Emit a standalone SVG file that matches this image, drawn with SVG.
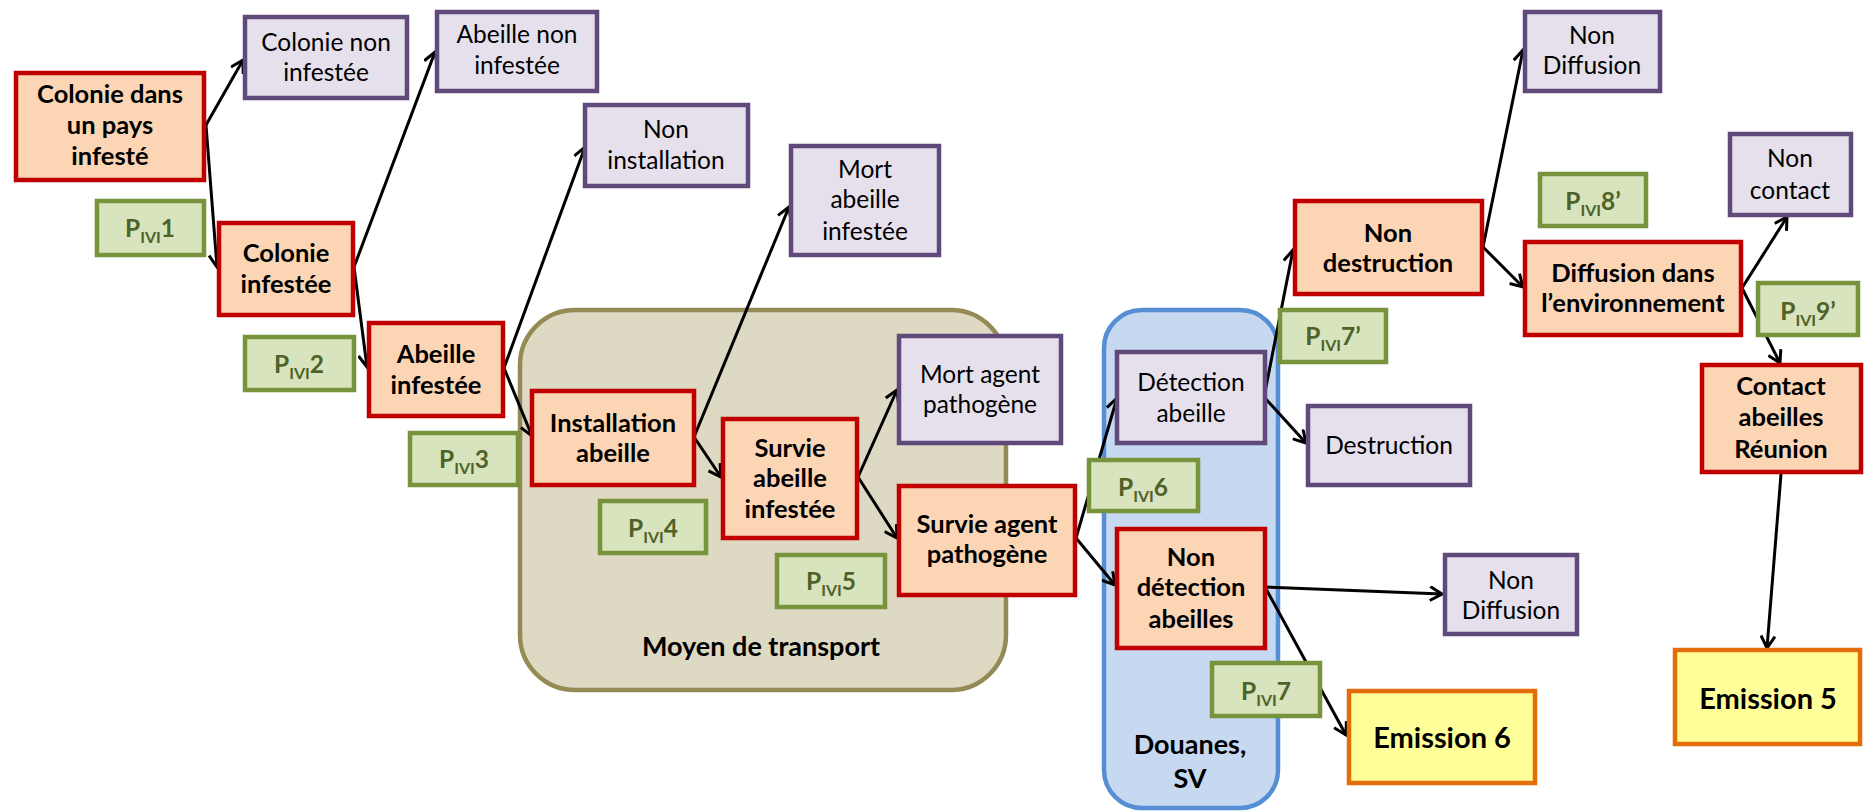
<svg xmlns="http://www.w3.org/2000/svg" width="1865" height="812" viewBox="0 0 1865 812">
<defs>
<style>
.red rect{fill:#FCD5B5;stroke:#C00000;stroke-width:4.5}
.pur rect{fill:#E5E0EC;stroke:#604A7B;stroke-width:4.5}
.grn rect{fill:#D7E4BD;stroke:#77933C;stroke-width:4.5}
.emi rect{fill:#FFFF99;stroke:#E46C0A;stroke-width:4.5}
text{font-family:Lato,"Liberation Sans",sans-serif;text-anchor:middle;fill:#000}
.b{font-weight:bold;font-size:25.5px}
.r{font-size:24.5px}
.c{font-weight:bold;font-size:27px}
.p{font-weight:bold;font-size:24.5px;fill:#4F6228}
.p .s{font-size:16px}
.e{font-weight:bold;font-size:29px}
#connectors line{stroke:#000;stroke-width:3;fill:none;marker-end:url(#arr)}
</style>
<marker id="arr" markerUnits="userSpaceOnUse" markerWidth="16" markerHeight="16" viewBox="0 0 16 16" refX="14" refY="8" orient="auto">
<path d="M2,1 L14,8 L2,15" fill="none" stroke="#000" stroke-width="3"/>
</marker>
</defs>
<rect width="1865" height="812" fill="#fff"/>

<g id="moyen-transport">
<rect x="520" y="310" width="486" height="380" rx="55" fill="#DDD9C3" stroke="#948A54" stroke-width="4.5"/>
<text class="c" x="761" y="656">Moyen de transport</text>
</g>
<g id="douanes">
<rect x="1104" y="310" width="174" height="498" rx="38" fill="#C6D9F1" stroke="#558ED5" stroke-width="4.5"/>
<text class="c" x="1190" y="754">Douanes,</text>
<text class="c" x="1190" y="788">SV</text>
</g>

<g id="connectors">
<line x1="206" y1="125" x2="243" y2="60"/>
<line x1="206" y1="125" x2="217" y2="267"/>
<line x1="354" y1="267" x2="435" y2="52"/>
<line x1="354" y1="267" x2="367" y2="367"/>
<line x1="504" y1="368" x2="585" y2="147"/>
<line x1="504" y1="368" x2="532" y2="436"/>
<line x1="694" y1="437" x2="789" y2="207"/>
<line x1="694" y1="437" x2="721" y2="477"/>
<line x1="858" y1="477" x2="897" y2="390"/>
<line x1="858" y1="477" x2="897" y2="538"/>
<line x1="1076" y1="538" x2="1117" y2="398"/>
<line x1="1076" y1="538" x2="1115" y2="585"/>
<line x1="1264" y1="397" x2="1293" y2="250"/>
<line x1="1264" y1="397" x2="1306" y2="443"/>
<line x1="1483" y1="247" x2="1523" y2="50"/>
<line x1="1483" y1="247" x2="1523" y2="287"/>
<line x1="1742" y1="288" x2="1787" y2="217"/>
<line x1="1742" y1="288" x2="1780" y2="363"/>
<line x1="1781" y1="474" x2="1767" y2="648"/>
<line x1="1265" y1="587" x2="1442" y2="594"/>
<line x1="1265" y1="587" x2="1346" y2="735"/>
</g>

<g id="colonie-pays-infeste" class="red"><rect x="16" y="73" width="188" height="107"/>
<text class="b" x="110" y="103">Colonie dans</text><text class="b" x="110" y="134">un pays</text><text class="b" x="110" y="165">infesté</text></g>
<g id="colonie-infestee" class="red"><rect x="219" y="223" width="134" height="92"/>
<text class="b" x="286" y="262">Colonie</text><text class="b" x="286" y="293">infestée</text></g>
<g id="abeille-infestee" class="red"><rect x="369" y="323" width="134" height="93"/>
<text class="b" x="436" y="363">Abeille</text><text class="b" x="436" y="394">infestée</text></g>
<g id="installation-abeille" class="red"><rect x="532" y="391" width="162" height="94"/>
<text class="b" x="613" y="432">Installation</text><text class="b" x="613" y="462">abeille</text></g>
<g id="survie-abeille" class="red"><rect x="723" y="419" width="134" height="119"/>
<text class="b" x="790" y="457">Survie</text><text class="b" x="790" y="487">abeille</text><text class="b" x="790" y="518">infestée</text></g>
<g id="survie-agent" class="red"><rect x="899" y="486" width="176" height="109"/>
<text class="b" x="987" y="533">Survie agent</text><text class="b" x="987" y="563">pathogène</text></g>
<g id="non-detection" class="red"><rect x="1117" y="529" width="148" height="119"/>
<text class="b" x="1191" y="566">Non</text><text class="b" x="1191" y="596">détection</text><text class="b" x="1191" y="628">abeilles</text></g>
<g id="non-destruction" class="red"><rect x="1295" y="201" width="187" height="93"/>
<text class="b" x="1388" y="242">Non</text><text class="b" x="1388" y="272">destruction</text></g>
<g id="diffusion" class="red"><rect x="1525" y="242" width="216" height="93"/>
<text class="b" x="1633" y="282">Diffusion dans</text><text class="b" x="1633" y="312">l’environnement</text></g>
<g id="contact" class="red"><rect x="1702" y="365" width="159" height="107"/>
<text class="b" x="1781" y="395">Contact</text><text class="b" x="1781" y="426">abeilles</text><text class="b" x="1781" y="458">Réunion</text></g>

<g id="colonie-non-infestee" class="pur"><rect x="245" y="17" width="162" height="81"/>
<text class="r" x="326" y="51">Colonie non</text><text class="r" x="326" y="81">infestée</text></g>
<g id="abeille-non-infestee" class="pur"><rect x="437" y="12" width="160" height="79"/>
<text class="r" x="517" y="43">Abeille non</text><text class="r" x="517" y="74">infestée</text></g>
<g id="non-installation" class="pur"><rect x="585" y="105" width="163" height="81"/>
<text class="r" x="666" y="138">Non</text><text class="r" x="666" y="169">installation</text></g>
<g id="mort-abeille" class="pur"><rect x="791" y="146" width="148" height="109"/>
<text class="r" x="865" y="178">Mort</text><text class="r" x="865" y="208">abeille</text><text class="r" x="865" y="240">infestée</text></g>
<g id="mort-agent" class="pur"><rect x="899" y="336" width="162" height="107"/>
<text class="r" x="980" y="383">Mort agent</text><text class="r" x="980" y="413">pathogène</text></g>
<g id="detection-abeille" class="pur"><rect x="1117" y="352" width="148" height="91"/>
<text class="r" x="1191" y="391">Détection</text><text class="r" x="1191" y="422">abeille</text></g>
<g id="destruction" class="pur"><rect x="1308" y="406" width="162" height="79"/>
<text class="r" x="1389" y="454">Destruction</text></g>
<g id="non-diffusion-2" class="pur"><rect x="1445" y="555" width="132" height="79"/>
<text class="r" x="1511" y="589">Non</text><text class="r" x="1511" y="619">Diffusion</text></g>
<g id="non-diffusion-1" class="pur"><rect x="1525" y="12" width="135" height="79"/>
<text class="r" x="1592" y="44">Non</text><text class="r" x="1592" y="74">Diffusion</text></g>
<g id="non-contact" class="pur"><rect x="1730" y="134" width="121" height="81"/>
<text class="r" x="1790" y="167">Non</text><text class="r" x="1790" y="199">contact</text></g>

<g id="p1" class="grn"><rect x="97" y="201" width="107" height="54"/>
<text class="p" x="150" y="237">P<tspan class="s" dy="6">IVI</tspan><tspan dy="-6">1</tspan></text></g>
<g id="p2" class="grn"><rect x="245" y="337" width="109" height="53"/>
<text class="p" x="299" y="373">P<tspan class="s" dy="6">IVI</tspan><tspan dy="-6">2</tspan></text></g>
<g id="p3" class="grn"><rect x="410" y="433" width="108" height="52"/>
<text class="p" x="464" y="468">P<tspan class="s" dy="6">IVI</tspan><tspan dy="-6">3</tspan></text></g>
<g id="p4" class="grn"><rect x="600" y="501" width="106" height="52"/>
<text class="p" x="653" y="537">P<tspan class="s" dy="6">IVI</tspan><tspan dy="-6">4</tspan></text></g>
<g id="p5" class="grn"><rect x="777" y="555" width="108" height="52"/>
<text class="p" x="831" y="590">P<tspan class="s" dy="6">IVI</tspan><tspan dy="-6">5</tspan></text></g>
<g id="p6" class="grn"><rect x="1089" y="460" width="109" height="51"/>
<text class="p" x="1143" y="496">P<tspan class="s" dy="6">IVI</tspan><tspan dy="-6">6</tspan></text></g>
<g id="p7b" class="grn"><rect x="1280" y="310" width="106" height="52"/>
<text class="p" x="1333" y="345">P<tspan class="s" dy="6">IVI</tspan><tspan dy="-6">7’</tspan></text></g>
<g id="p7" class="grn"><rect x="1212" y="663" width="108" height="53"/>
<text class="p" x="1266" y="700">P<tspan class="s" dy="6">IVI</tspan><tspan dy="-6">7</tspan></text></g>
<g id="p8b" class="grn"><rect x="1540" y="174" width="106" height="52"/>
<text class="p" x="1593" y="210">P<tspan class="s" dy="6">IVI</tspan><tspan dy="-6">8’</tspan></text></g>
<g id="p9b" class="grn"><rect x="1758" y="283" width="100" height="52"/>
<text class="p" x="1808" y="320">P<tspan class="s" dy="6">IVI</tspan><tspan dy="-6">9’</tspan></text></g>

<g id="emission-6" class="emi"><rect x="1349" y="691" width="186" height="92"/>
<text class="e" x="1442" y="748">Emission 6</text></g>
<g id="emission-5" class="emi"><rect x="1675" y="650" width="185" height="94"/>
<text class="e" x="1768" y="709">Emission 5</text></g>
</svg>
